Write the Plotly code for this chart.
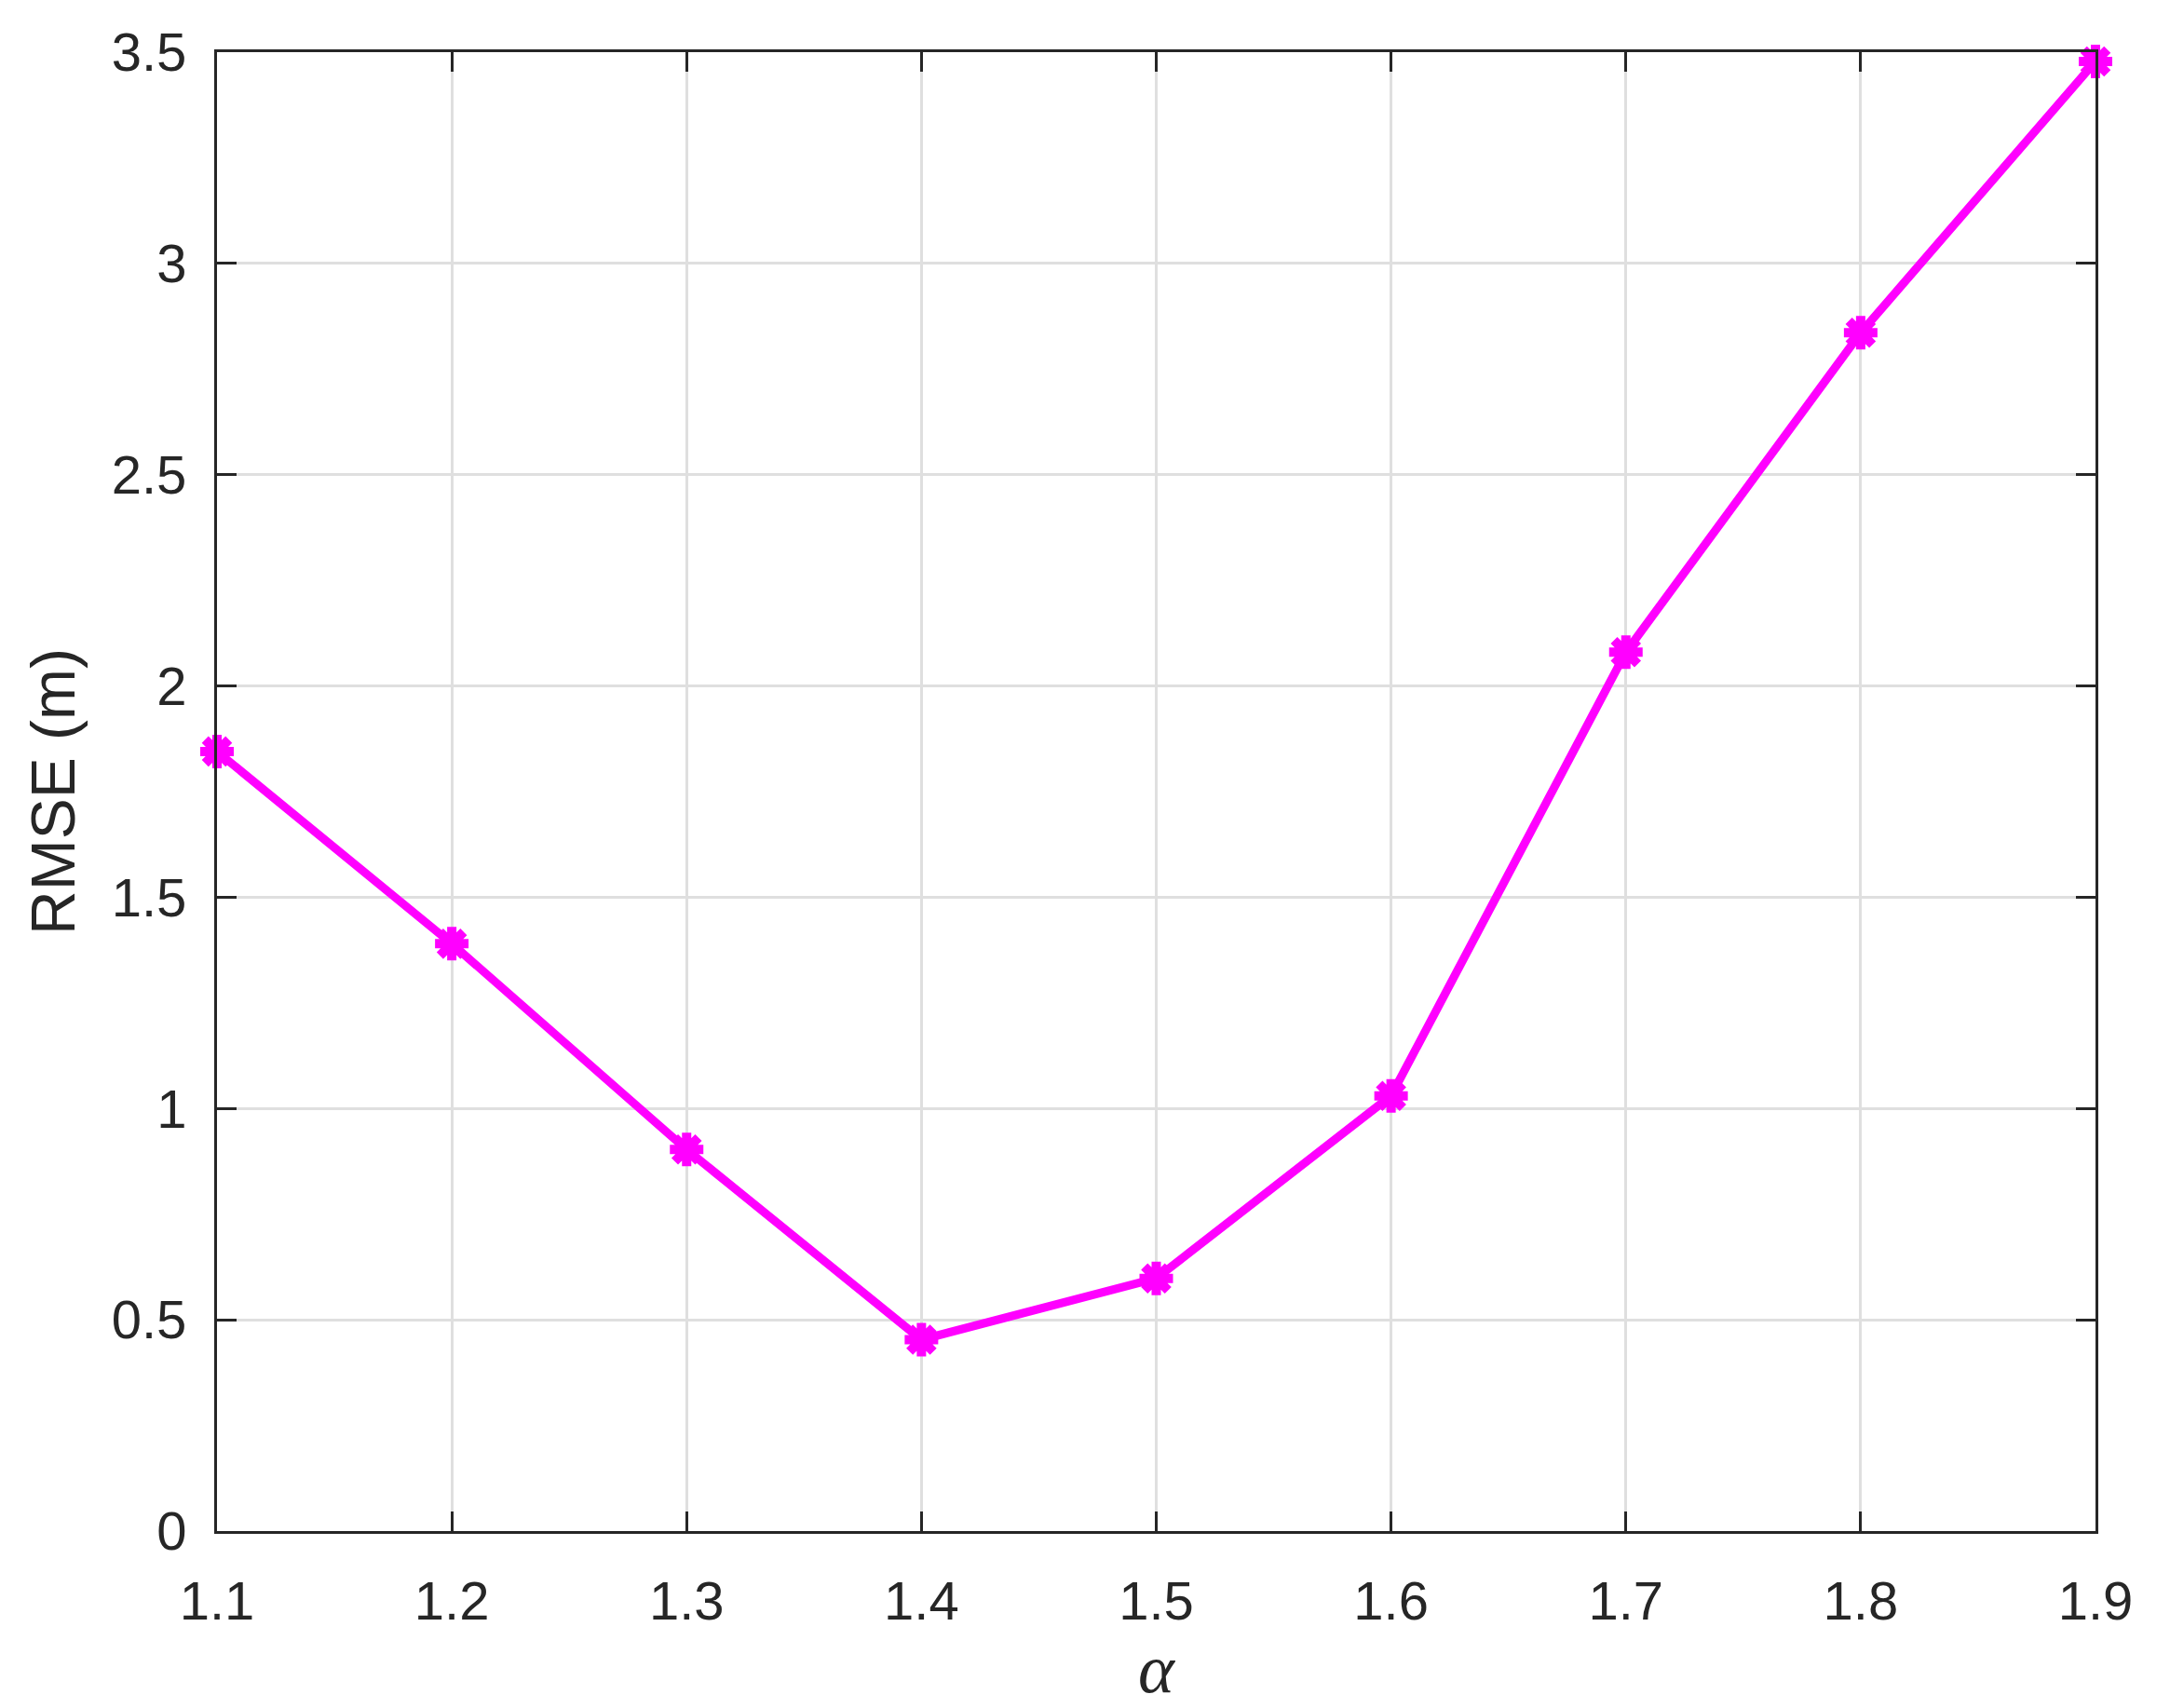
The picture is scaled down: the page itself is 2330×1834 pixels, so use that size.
import plotly.graph_objects as go

alpha = [1.1, 1.2, 1.3, 1.4, 1.5, 1.6, 1.7, 1.8, 1.9]
rmse = [1.845, 1.39, 0.903, 0.453, 0.598, 1.03, 2.08, 2.836, 3.478]
y_ticks = [0, 0.5, 1, 1.5, 2, 2.5, 3, 3.5]
x_ticks = [1.1, 1.2, 1.3, 1.4, 1.5, 1.6, 1.7, 1.8, 1.9]

AX = "#262626"
GRID = "#dfdfdf"
TICKFONT = dict(family="Liberation Sans, Arial, Helvetica", size=58, color=AX)

fig = go.Figure()
fig.add_trace(go.Scatter(
    x=alpha, y=rmse, mode="lines+markers",
    line=dict(color="#ff00ff", width=9),
    marker=dict(symbol="asterisk", size=30, color="#ff00ff",
                line=dict(color="#ff00ff", width=10)),
    cliponaxis=False, showlegend=False,
))

fig.update_layout(
    width=2330, height=1834,
    margin=dict(l=233, r=80, t=56, b=190),
    paper_bgcolor="white", plot_bgcolor="white",
)
fig.update_xaxes(
    range=[1.1, 1.9], tickvals=x_ticks, ticktext=[f"{v:.1f}" for v in x_ticks],
    showline=True, linecolor=AX, linewidth=3, mirror="ticks",
    ticks="inside", ticklen=21, tickwidth=3, tickcolor=AX,
    showgrid=True, gridcolor=GRID, gridwidth=3, zeroline=False,
    tickfont=TICKFONT, ticklabelstandoff=22,
    title=dict(text="<i>α</i>", font=dict(family="Liberation Serif, Times New Roman", size=74, color=AX), standoff=12),
)
fig.update_yaxes(
    range=[0, 3.5], tickvals=y_ticks,
    showline=True, linecolor=AX, linewidth=3, mirror="ticks",
    ticks="inside", ticklen=21, tickwidth=3, tickcolor=AX,
    showgrid=True, gridcolor=GRID, gridwidth=3, zeroline=False,
    tickfont=TICKFONT, ticklabelstandoff=18,
    title=dict(text="RMSE (m)", font=dict(family="Liberation Sans, Arial, Helvetica", size=66, color=AX), standoff=18),
)

fig.write_html("out.html", config={"displayModeBar": False},
               post_script="document.body.style.margin='0';document.body.style.overflow='hidden';")
